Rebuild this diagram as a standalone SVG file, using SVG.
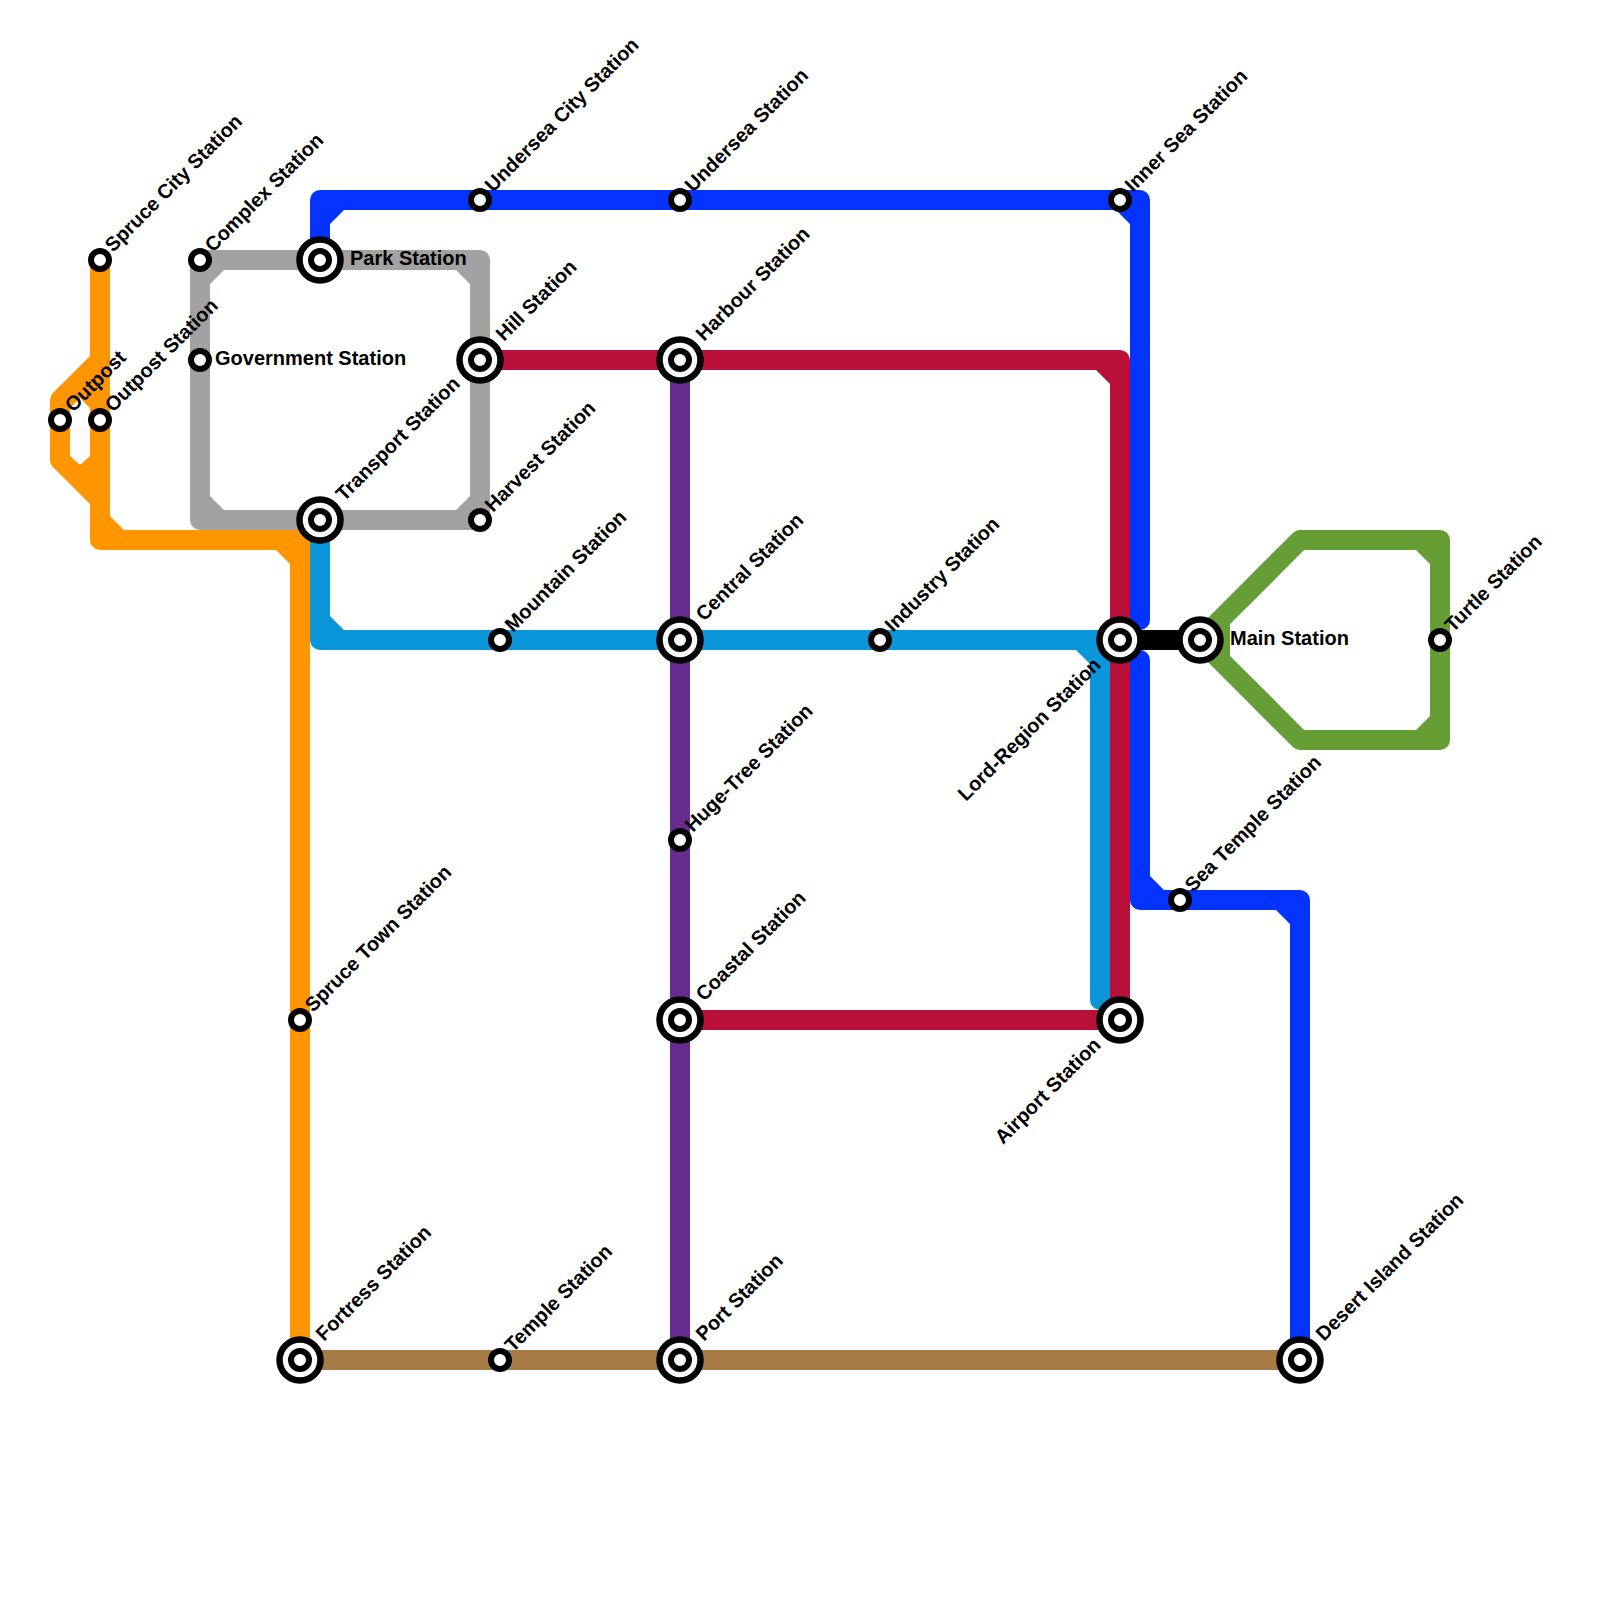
<svg xmlns="http://www.w3.org/2000/svg" width="1600" height="1600" viewBox="0 0 1600 1600">
<style>
.l{fill:none;stroke-width:20;stroke-linejoin:round;stroke-linecap:round}
.c{stroke:none}
.t{font-family:"Liberation Sans",Arial,sans-serif;font-weight:700;font-size:20px;fill:#000}
.s{fill:#fff;stroke:#000;stroke-width:6}
.b{fill:#fff;stroke:#000;stroke-width:6.5}
</style>
<defs>
<g id="big"><circle class="b" r="20.5"/><circle class="s" r="9"/></g>
<circle id="small" class="s" r="9"/>
</defs>
<g id="connectors">
<path class="l" stroke="#a2a2a2" d="M200 260H480V520H200Z"/>
<path class="c" fill="#a2a2a2" d="M210 270h14l-14 14ZM470 270h-14l14 14ZM210 510h14l-14-14ZM470 510h-14l14-14Z"/>
<path class="l" stroke="#ff9500" d="M100 260V540H300V1360M100 360L60 400V460L100 500"/>
<path class="c" fill="#ff9500" d="M110 530h14l-14-14ZM290 550h-14l14 14ZM70 408L80 398L90 408V380H70ZM70 456L80 465L90 456V480H70Z"/>
<path class="l" stroke="#0a96d8" d="M320 520V640H1100V1000"/>
<path class="c" fill="#0a96d8" d="M330 630h14l-14-14ZM1090 650h-14l14 14Z"/>
<path class="l" stroke="#0433ff" d="M320 260V200H1140V620M1140 660V900H1300V1360"/>
<path class="c" fill="#0433ff" d="M330 210h14l-14 14ZM1130 210h-14l14 14ZM1150 890h14l-14-14ZM1290 910h-14l14 14Z"/>
<path class="l" stroke="#662c90" d="M680 360V1360"/>
<path class="l" stroke="#b81038" d="M480 360H1120V1020H680"/>
<path class="c" fill="#b81038" d="M1110 370h-14l14 14Z"/>
<path class="l" stroke="#a67b45" d="M300 1360H1300"/>
<path class="l" stroke="#669d34" d="M1200 640L1300 540H1440V740H1300L1200 640M1220 620V660"/>
<path class="c" fill="#669d34" d="M1430 550h-14l14 14ZM1430 730h-14l14-14Z"/>
<path class="l" stroke="#000" d="M1140 640H1200"/>
</g>
<g id="spruce-city"><use href="#small" x="100" y="260"/><text class="t" transform="translate(113 253) rotate(-45)">Spruce City Station</text></g>
<g id="complex"><use href="#small" x="200" y="260"/><text class="t" transform="translate(213 253) rotate(-45)">Complex Station</text></g>
<g id="park"><use href="#big" x="320" y="260"/><text class="t" x="350" y="265">Park Station</text></g>
<g id="government"><use href="#small" x="200" y="360"/><text class="t" x="215" y="365">Government Station</text></g>
<g id="hill"><use href="#big" x="480" y="360"/><text class="t" transform="translate(504 342) rotate(-45)">Hill Station</text></g>
<g id="harbour"><use href="#big" x="680" y="360"/><text class="t" transform="translate(704 342) rotate(-45)">Harbour Station</text></g>
<g id="outpost"><use href="#small" x="60" y="420"/><text class="t" transform="translate(73 413) rotate(-45)">Outpost</text></g>
<g id="outpost-station"><use href="#small" x="100" y="420"/><text class="t" transform="translate(113 413) rotate(-45)">Outpost Station</text></g>
<g id="transport"><use href="#big" x="320" y="520"/><text class="t" transform="translate(344 502) rotate(-45)">Transport Station</text></g>
<g id="harvest"><use href="#small" x="480" y="520"/><text class="t" transform="translate(493 513) rotate(-45)">Harvest Station</text></g>
<g id="undersea-city"><use href="#small" x="480" y="200"/><text class="t" transform="translate(493 193) rotate(-45)">Undersea City Station</text></g>
<g id="undersea"><use href="#small" x="680" y="200"/><text class="t" transform="translate(693 193) rotate(-45)">Undersea Station</text></g>
<g id="inner-sea"><use href="#small" x="1120" y="200"/><text class="t" transform="translate(1133 193) rotate(-45)">Inner Sea Station</text></g>
<g id="mountain"><use href="#small" x="500" y="640"/><text class="t" transform="translate(513 633) rotate(-45)">Mountain Station</text></g>
<g id="central"><use href="#big" x="680" y="640"/><text class="t" transform="translate(704 622) rotate(-45)">Central Station</text></g>
<g id="industry"><use href="#small" x="880" y="640"/><text class="t" transform="translate(893 633) rotate(-45)">Industry Station</text></g>
<g id="lord-region"><use href="#big" x="1120" y="640"/><text class="t" text-anchor="end" transform="translate(1102 666) rotate(-45)">Lord-Region Station</text></g>
<g id="main"><use href="#big" x="1200" y="640"/><text class="t" x="1230" y="645">Main Station</text></g>
<g id="turtle"><use href="#small" x="1440" y="640"/><text class="t" transform="translate(1453 633) rotate(-45)">Turtle Station</text></g>
<g id="huge-tree"><use href="#small" x="680" y="840"/><text class="t" transform="translate(693 833) rotate(-45)">Huge-Tree Station</text></g>
<g id="sea-temple"><use href="#small" x="1180" y="900"/><text class="t" transform="translate(1193 893) rotate(-45)">Sea Temple Station</text></g>
<g id="spruce-town"><use href="#small" x="300" y="1020"/><text class="t" transform="translate(313 1013) rotate(-45)">Spruce Town Station</text></g>
<g id="coastal"><use href="#big" x="680" y="1020"/><text class="t" transform="translate(704 1002) rotate(-45)">Coastal Station</text></g>
<g id="airport"><use href="#big" x="1120" y="1020"/><text class="t" text-anchor="end" transform="translate(1102 1046) rotate(-45)">Airport Station</text></g>
<g id="fortress"><use href="#big" x="300" y="1360"/><text class="t" transform="translate(324 1342) rotate(-45)">Fortress Station</text></g>
<g id="temple"><use href="#small" x="500" y="1360"/><text class="t" transform="translate(513 1353) rotate(-45)">Temple Station</text></g>
<g id="port"><use href="#big" x="680" y="1360"/><text class="t" transform="translate(704 1342) rotate(-45)">Port Station</text></g>
<g id="desert-island"><use href="#big" x="1300" y="1360"/><text class="t" transform="translate(1324 1342) rotate(-45)">Desert Island Station</text></g>
</svg>
